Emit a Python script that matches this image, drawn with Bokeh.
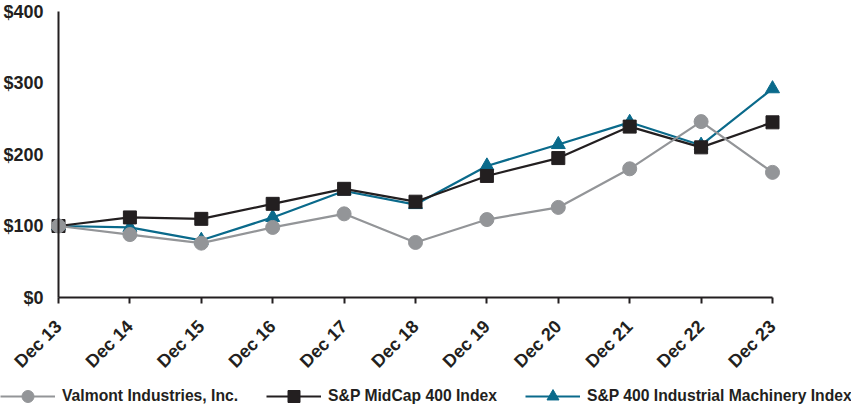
import math
from bokeh.plotting import figure
from bokeh.models import Range1d, FixedTicker, Legend, LegendItem
from bokeh.embed import file_html
from bokeh.resources import INLINE

categories = ["Dec 13", "Dec 14", "Dec 15", "Dec 16", "Dec 17", "Dec 18",
              "Dec 19", "Dec 20", "Dec 21", "Dec 22", "Dec 23"]
valmont = [100, 88, 76, 98, 117, 77, 109, 126, 180, 246, 175]
midcap = [100, 112, 110, 131, 152, 134, 170, 195, 239, 210, 245]
machinery = [100, 98, 80, 112, 149, 130, 184, 214, 245, 213, 292]
y_ticks = [0, 100, 200, 300, 400]
y_labels = ["$0", "$100", "$200", "$300", "$400"]

x = list(range(len(categories)))

GRAY = "#939598"
BLACK = "#231f20"
TEAL = "#0a6a8b"
FONT = "Liberation Sans"

# layout (pixels inside the figure)
W, H = 851, 406
X0_PX, STEP_PX = 58.0, 71.4          # first category position, spacing
Y0_PX, Y_PX_PER_UNIT = 297.0, 0.715  # y=0 position from top, scale
YMAX = 400

x_start = -X0_PX / STEP_PX
x_end = (W - X0_PX) / STEP_PX
y_end = YMAX + (Y0_PX - Y_PX_PER_UNIT * YMAX) / Y_PX_PER_UNIT
y_start = -(H - Y0_PX) / Y_PX_PER_UNIT

p = figure(width=W, height=H, output_backend="svg", toolbar_location=None,
           x_range=Range1d(x_start, x_end), y_range=Range1d(y_start, y_end),
           min_border=0, min_border_left=0, min_border_right=0,
           min_border_top=0, min_border_bottom=0)
p.outline_line_color = None
p.grid.visible = False
p.background_fill_color = "white"
p.border_fill_color = "white"

r3l = p.line(x, machinery, line_color=TEAL, line_width=2.2)
r3m = p.scatter(x, machinery, marker="triangle", size=14, fill_color=TEAL, line_color=TEAL)
r2l = p.line(x, midcap, line_color=BLACK, line_width=2.2)
r2m = p.scatter(x, midcap, marker="square", size=13, fill_color=BLACK, line_color=BLACK)
r1l = p.line(x, valmont, line_color=GRAY, line_width=2.2)
r1m = p.scatter(x, valmont, marker="circle", size=14, fill_color=GRAY, line_color=GRAY)

xa = p.xaxis[0]
xa.fixed_location = 0
xa.ticker = FixedTicker(ticks=x)
xa.bounds = (0, len(categories) - 1)
xa.major_label_overrides = {i: c for i, c in zip(x, categories)}
xa.major_label_orientation = math.pi / 4
xa.major_label_text_font = FONT
xa.major_label_text_font_style = "bold"
xa.major_label_text_font_size = "18px"
xa.major_label_text_color = BLACK
xa.axis_line_color = BLACK
xa.axis_line_width = 2
xa.major_tick_line_color = BLACK
xa.major_tick_line_width = 2
xa.major_tick_out = 6
xa.major_tick_in = 0
xa.minor_tick_out = 0
xa.major_label_standoff = 20

ya = p.yaxis[0]
ya.fixed_location = 0
ya.bounds = (0, YMAX)
ya.ticker = FixedTicker(ticks=y_ticks)
ya.major_label_overrides = {t: l for t, l in zip(y_ticks, y_labels)}
ya.major_label_text_font = FONT
ya.major_label_text_font_style = "bold"
ya.major_label_text_font_size = "18px"
ya.major_label_text_color = BLACK
ya.axis_line_color = BLACK
ya.axis_line_width = 2
ya.major_tick_out = 0
ya.major_tick_in = 0
ya.minor_tick_out = 0
ya.minor_tick_in = 0
ya.major_label_standoff = 15

legend = Legend(items=[
    LegendItem(label="Valmont Industries, Inc.", renderers=[r1l, r1m]),
    LegendItem(label="S&P MidCap 400 Index", renderers=[r2l, r2m]),
    LegendItem(label="S&P 400 Industrial Machinery Index", renderers=[r3l, r3m]),
], orientation="horizontal", location=(0, -5))
legend.label_text_font = FONT
legend.label_text_font_style = "bold"
legend.label_text_font_size = "15.7px"
legend.label_text_color = BLACK
legend.border_line_color = None
legend.background_fill_alpha = 0
legend.glyph_width = 55
legend.glyph_height = 30
legend.label_standoff = 7
legend.spacing = 28
legend.padding = 0
legend.margin = 0
p.add_layout(legend, "center")

open("out.html", "w").write(file_html(p, INLINE))
